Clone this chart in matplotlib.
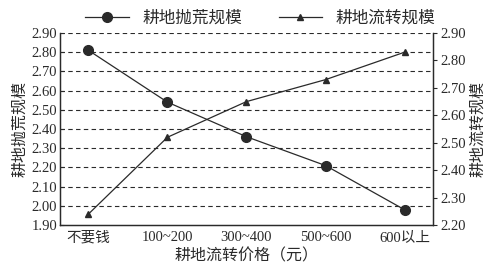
import matplotlib
matplotlib.use("Agg")
import matplotlib.pyplot as plt

plt.rcParams['font.family'] = ['Liberation Serif', 'Noto Sans CJK SC', 'DejaVu Sans']

categories = ["不要钱", "100~200", "300~400", "500~600", "600以上"]
abandon = [2.81, 2.54, 2.36, 2.21, 1.98]
transfer = [2.24, 2.52, 2.65, 2.73, 2.83]
left_ticks = [1.90, 2.00, 2.10, 2.20, 2.30, 2.40, 2.50, 2.60, 2.70, 2.80, 2.90]
right_ticks = [2.20, 2.30, 2.40, 2.50, 2.60, 2.70, 2.80, 2.90]

fig = plt.figure(figsize=(4.91, 2.68), dpi=100)
ax = fig.add_axes([0.122, 0.16, 0.76, 0.717])
ax2 = ax.twinx()

x = list(range(len(categories)))
c = '#2a2a2a'
l1, = ax.plot(x, abandon, color=c, lw=0.9, marker='o', ms=7, label='耕地抛荒规模')
l2, = ax2.plot(x, transfer, color=c, lw=0.9, marker='^', ms=5, label='耕地流转规模')

ax.set_ylim(1.90, 2.90)
ax2.set_ylim(2.20, 2.90)
ax.set_xlim(-0.36, 4.36)
ax.set_yticks(left_ticks)
ax.set_yticklabels([f"{v:.2f}" for v in left_ticks])
ax2.set_yticks(right_ticks)
ax2.set_yticklabels([f"{v:.2f}" for v in right_ticks])
ax.set_xticks(x)
ax.set_xticklabels(categories)
ax.tick_params(axis='x', length=0, labelsize=10.5, colors=c, pad=4)
ax.tick_params(axis='y', direction='in', length=3, labelsize=10.5, colors=c, pad=2)
ax2.tick_params(axis='y', direction='out', length=3, labelsize=10.5, colors=c, pad=2)

for v in left_ticks[1:]:
    ax.axhline(v, color=c, lw=0.8, ls=(0, (4, 3)), zorder=0)

for a in (ax, ax2):
    a.spines['top'].set_visible(False)
    for s in ('left', 'right', 'bottom'):
        a.spines[s].set_color(c)
        a.spines[s].set_linewidth(0.9)

ax.set_ylabel('耕地抛荒规模', fontsize=11.5, color=c, labelpad=2)
ax2.set_ylabel('耕地流转规模', fontsize=11.5, color=c, labelpad=3)
ax.set_xlabel('耕地流转价格（元）', fontsize=11.5, color=c, labelpad=3)

fig.legend(handles=[l1, l2], loc='upper center', bbox_to_anchor=(0.53, 1.015), ncol=2,
           frameon=False, fontsize=12, handlelength=2.6, columnspacing=2.2, labelcolor=c)

fig.savefig('out.png', dpi=100)
